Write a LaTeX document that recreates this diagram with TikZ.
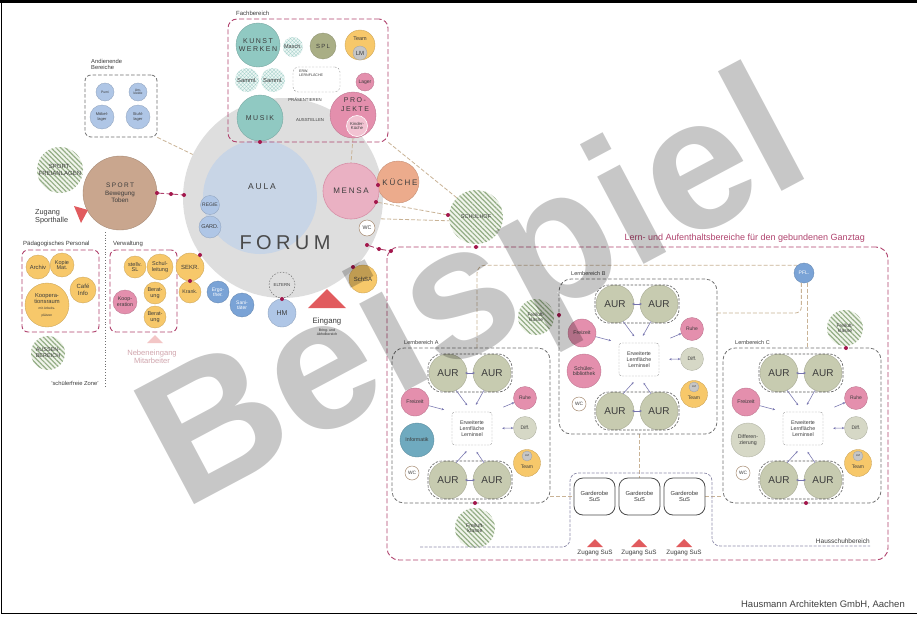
\documentclass[tikz,border=0pt]{standalone}
\usepackage{fontspec}
\setmainfont{Liberation Sans}
\newfontfamily\spcfont[LetterSpace=22]{Liberation Sans}
\usetikzlibrary{patterns.meta,arrows.meta}
\definecolor{cforum}{HTML}{DEDEDE}
\definecolor{caula}{HTML}{C8D5E6}
\definecolor{cteal}{HTML}{90C9C2}
\definecolor{colive}{HTML}{A9AE85}
\definecolor{corange}{HTML}{F7C86A}
\definecolor{cpink}{HTML}{E48FAD}
\definecolor{cpinkl}{HTML}{F2C3D2}
\definecolor{cmensa}{HTML}{EAB1C3}
\definecolor{cmensab}{HTML}{D790A8}
\definecolor{ckueche}{HTML}{ECAB8C}
\definecolor{csport}{HTML}{C9A68E}
\definecolor{cblue}{HTML}{AFC6E6}
\definecolor{cdblue}{HTML}{7AA3D6}
\definecolor{cinfo}{HTML}{6FAABF}
\definecolor{caur}{HTML}{C7CBB0}
\definecolor{cdiff}{HTML}{D6D8C6}
\definecolor{cgrey}{HTML}{C6C6C6}
\definecolor{cmag}{HTML}{B0436E}
\definecolor{cdot}{HTML}{A3174C}
\definecolor{ctan}{HTML}{C9B396}
\definecolor{cbox}{HTML}{707070}
\definecolor{carr}{HTML}{7573AE}
\definecolor{cred}{HTML}{E15B5E}
\definecolor{chatch}{HTML}{93AD85}
\definecolor{chatchbg}{HTML}{F1F5EC}
\definecolor{cscale}{HTML}{A7D2CC}
\definecolor{cscalebg}{HTML}{EEF7F5}
\definecolor{chaus}{HTML}{8E8CAA}
\definecolor{ctxt}{HTML}{3C3C3C}
\definecolor{ctxtb}{HTML}{4A4A4A}
\definecolor{cwcb}{HTML}{A5896F}
\definecolor{cneben}{HTML}{D1A5AD}
\definecolor{cnebtri}{HTML}{F3C6C6}
\pgfdeclarelayer{bg}
\pgfsetlayers{bg,main}
\newcommand\lernber[6]{%
\begin{scope}[shift={(#2,#3)}, name prefix=#1-]
 \node[lbox, minimum width=158pt, minimum height=155pt] (box) at (471,425.5) {};
 \node[lbl, fs=5.5, anchor=west] (lbl) at (404,343) {Lernbereich #4};
 \node[cf=caur, rad=19, fs=10] (aur1) at (448,373) {AUR};
 \node[cf=caur, rad=19, fs=10] (aur2) at (492,373) {AUR};
 \node[pairb, minimum width=84pt, minimum height=38pt] (pt) at (470,373) {};
 \node[cf=caur, rad=19, fs=10] (aur3) at (448,480) {AUR};
 \node[cf=caur, rad=19, fs=10] (aur4) at (492,480) {AUR};
 \node[pairb, minimum width=84pt, minimum height=38pt] (pb) at (470,480) {};
 \node[lfb, minimum width=40pt, minimum height=33pt, fs=5.3] (lf) at (472,428.5) {Erweiterte\\Lernfläche\\Lerninsel};
 \node[cf=cpink, rad=14, fs=5.3] (frei) at (415,402) {Freizeit};
 \node[cf=#6, rad=17, fs=5.3] (sec) at (417,440) {#5};
 \node[wc, rad=7, fs=4.8] (wc) at (412,473) {WC};
 \node[cf=cpink, rad=11.5, fs=5] (ruhe) at (525,398) {Ruhe};
 \node[cf=cdiff, rad=11.5, fs=5] (diff) at (525,428) {Diff.};
 \node[cf=corange, rad=13.5] (team) at (527,463) {};
 \node[cf=cgrey, rad=5, fs=2.8] (lm) at (527,456) {LM};
 \node[lbl, fs=5] (teamt) at (527,467) {Team};
 \draw[arrd, {Stealth[length=2.4pt,width=2.2pt]}-{Stealth[length=2.4pt,width=2.2pt]}] ([xshift=-2pt]aur1.east) -- ([xshift=2pt]aur2.west);
 \draw[arrd, {Stealth[length=2.4pt,width=2.2pt]}-{Stealth[length=2.4pt,width=2.2pt]}] ([xshift=-2pt]aur3.east) -- ([xshift=2pt]aur4.west);
 \draw[arrd, shorten >=8pt] (aur1.-65) -- (lf.north);
 \draw[arrd, shorten >=8pt] (aur2.-115) -- (lf.north);
 \draw[arrd, shorten >=8pt] (aur3.65) -- (lf.south);
 \draw[arrd, shorten >=8pt] (aur4.115) -- (lf.south);
 \draw[arrd, shorten >=8pt] (frei) -- (lf.north west);
 \draw[arrd, shorten <=12pt] (lf.north east) -- (ruhe);
 \draw[arrd, {Stealth[length=2.4pt,width=2.2pt]}-{Stealth[length=2.4pt,width=2.2pt]}, shorten <=10pt] (lf.east) -- (diff.west);
\end{scope}}
\begin{document}
\begin{tikzpicture}[x=1pt,y=-1pt,
 fs/.style={font=\linespread{1.08}\fontsize{#1}{#1}\selectfont},
 sp/.style={font=\spcfont\linespread{1.2}\fontsize{#1}{#1}\selectfont},
 ci/.style={circle, inner sep=0pt, align=center, text=ctxt},
 rad/.style={minimum size={2*#1pt}},
 cf/.style={ci, fill=#1, draw=#1!82!black, line width=0.35pt},
 hatch/.style={ci, fill=chatchbg, postaction={pattern={Lines[angle=-45,distance=3.4pt,line width=1.2pt]}, pattern color=chatch}},
 scal/.style={ci, fill=cscalebg, postaction={pattern={Hatch[angle=45,distance=2.6pt,line width=0.35pt]}, pattern color=cscale}},
 wc/.style={ci, fill=white, draw=cwcb, line width=0.5pt},
 mdot/.style={circle, fill=cdot, inner sep=0pt, minimum size=4pt},
 magd/.style={draw=cmag, dash pattern=on 5pt off 2.5pt, line width=0.9pt},
 tanl/.style={draw=ctan, dash pattern=on 4pt off 2pt, line width=0.8pt},
 greyd/.style={draw=cbox, dash pattern=on 3.5pt off 2pt, line width=0.8pt},
 lbox/.style={rectangle, greyd, rounded corners=12pt, inner sep=0pt},
 pairb/.style={rectangle, draw=cbox!80!black, dash pattern=on 2.5pt off 1.5pt, rounded corners=14pt, line width=0.6pt, inner sep=0pt},
 lfb/.style={rectangle, draw=cbox!70, dash pattern=on 2pt off 1.2pt, line width=0.45pt, rounded corners=3pt, inner sep=0pt, align=center, text=ctxt},
 arrd/.style={draw=carr, line width=0.55pt, -{Stealth[length=2.4pt,width=2.2pt]}},
 lbl/.style={text=ctxt, inner sep=0pt},
 gard/.style={rectangle, draw=black!70, rounded corners=9pt, minimum width=41pt, minimum height=37pt, line width=0.8pt, align=center, fill=white, text=ctxt, inner sep=0pt},
 fbox/.style={rectangle, magd, rounded corners=6pt, inner sep=0pt},
]
\useasboundingbox (0,0) rectangle (917,616);

% ---------- background + Forum ----------
\begin{pgfonlayer}{bg}
\fill[white] (0,0) rectangle (917,616);
\node[ci, fill=cforum, rad=100] (forum) at (283,198) {};
\node[ci, fill=caula, rad=57] (aula) at (260,197) {};
\end{pgfonlayer}
\draw[line width=0.8pt] (1,0) -- (1,613) -- (917,613);
\fill[black] (0,0) rectangle (917,3);
\node[lbl, sp=8.5] (aulat) at (262,187) {AULA};
\node[lbl, sp=20, text=ctxtb] (forumt) at (285,243) {FORUM};
\node[cf=cblue, rad=9.5, fs=5] (regie) at (210,205) {REGIE};
\node[cf=cblue, rad=11, fs=5.5] (gard) at (210,227) {GARD.};

% ---------- Fachbereich ----------
\node[lbl, fs=6, anchor=west] (fachl) at (236,13) {Fachbereich};
\node[fbox, rounded corners=9pt, minimum width=160pt, minimum height=123pt] (fach) at (308,80.5) {};
\node[cf=cteal, rad=22, sp=7] (kunst) at (258,45) {KUNST\\WERKEN};
\node[scal, rad=10, fs=5.5] (masch) at (293,47) {Masch.};
\node[cf=colive, rad=13, sp=6] (spl) at (323,46) {SPL};
\node[cf=corange, rad=15] (team0) at (360,45) {};
\node[cf=cgrey, rad=7, fs=6] (lm0) at (360,53) {LM};
\node[lbl, fs=5.5] (team0t) at (360,39) {Team};
\node[scal, rad=12, fs=5.8] (sam1) at (247,80) {Samml.};
\node[scal, rad=12, fs=5.8] (sam2) at (273,80) {Samml.};
\node[rectangle, draw=cbox!70, dash pattern=on 2pt off 1.5pt, rounded corners=5pt, minimum width=47pt, minimum height=25pt, inner sep=0pt] (erw) at (316.5,79.5) {};
\node[lbl, fs=3.6, align=left, anchor=north west] (erwt) at (299,70) {ERW.\\LERNFLÄCHE};
\node[cf=cpink, rad=9, fs=5] (lager) at (365,82) {Lager};
\node[lbl, fs=4.3] (praes) at (305,100) {PRÄSENTIEREN};
\node[cf=cpink, rad=23] (proj) at (353,115) {};
\node[lbl, sp=7, align=center] (projt) at (355,104.5) {PRO-\\JEKTE};
\node[ci, fill=cpinkl, draw=white, line width=0.6pt, rad=10.5, fs=4.3] (kind) at (357,126) {Kinder-\\Küche};
\node[cf=cteal, rad=23, sp=7] (musik) at (260,118) {MUSIK};
\node[lbl, fs=4.3] (ausst) at (310,120) {AUSSTELLEN};
\node[mdot] (dmus) at (260,142) {};

% ---------- Mensa / Kueche / Schulhof ----------
\node[cf=ckueche, rad=21] (kueche) at (398,182) {};
\node[ci, fill=cmensa, draw=cmensab, line width=0.6pt, rad=28, sp=8] (mensa) at (351,191) {MENSA};
\node[lbl, sp=8] (kuechet) at (400,182) {KÜCHE};
\node[mdot] (dm1) at (378,185) {};
\node[mdot] (dm2) at (376,202) {};
\node[wc, rad=8, fs=5.3] (wcf) at (367,228) {WC};
\node[hatch, rad=27, fs=5.5] (schulhof) at (476,217) {SCHULHOF};
\node[mdot] (dsh) at (448,215) {};

% ---------- Sport ----------
\node[hatch, rad=23, fs=6] (freian) at (60,170) {SPORT-\\FREIANLAGEN};
\node[cf=csport, rad=37] (sport) at (120,193) {};
\node[lbl, sp=6.5] (sportt) at (120,185) {SPORT};
\node[lbl, fs=6.3, align=center] (sportt2) at (120,196.5) {Bewegung\\Toben};
\node[mdot] (ds1) at (157,193) {};
\node[mdot] (ds2) at (171,194) {};
\node[mdot] (ds3) at (184,195) {};
\fill[cred] (74,206) -- (88,210) -- (81,223) -- cycle;
\node[lbl, fs=7.3, align=left, anchor=west] (zsp) at (35,217) {Zugang\\Sporthalle};

% ---------- Andienende Bereiche ----------
\node[lbl, fs=5.8, align=left, anchor=north west] (andl) at (91,59) {Andienende\\Bereiche};
\node[rectangle, greyd, rounded corners=6pt, minimum width=72pt, minimum height=62pt, inner sep=0pt] (andien) at (121,106) {};
\node[cf=cblue, rad=9, fs=3.4] (pumi) at (105,92) {Pumi};
\node[cf=cblue, rad=9, fs=3.4] (umk) at (138,92) {Um-\\kleide};
\node[cf=cblue, rad=12, fs=4] (moeb) at (102,117) {Möbel-\\lager};
\node[cf=cblue, rad=12, fs=4] (stuhl) at (138,117) {Stuhl-\\lager};

% ---------- Paedagogisches Personal ----------
\node[lbl, fs=6, anchor=west] (paedl) at (23,244) {Pädagogisches Personal};
\node[fbox, minimum width=77pt, minimum height=82pt] (paed) at (60.5,291) {};
\node[cf=corange, rad=12, fs=5.8] (archiv) at (38,267) {Archiv};
\node[cf=corange, rad=12, fs=5.5] (kopie) at (62,265) {Kopie\\Mat.};
\node[cf=corange, rad=13, fs=6] (cafe) at (83,290) {Café\\Info};
\node[cf=corange, rad=22, fs=5.8] (koopr) at (47,305) {Koopera-\\tionsraum\\{\fontsize{3.3}{3.6}\selectfont mit Arbeits-}\\{\fontsize{3.3}{3.6}\selectfont plätzen}};
\node[hatch, rad=17, fs=5.5] (aussen) at (48,353) {AUSSEN-\\BEREICH};
\node[lbl, fs=5.8] (sfz) at (75,383) {'schülerfreie Zone'};
\draw[cbox, dotted, line width=0.8pt] (105,232) -- (105,388);

% ---------- Verwaltung ----------
\node[lbl, fs=6, anchor=west] (verwl) at (113,244) {Verwaltung};
\node[fbox, minimum width=67pt, minimum height=82pt] (verw) at (143.5,291) {};
\node[cf=corange, rad=11, fs=5.5] (stellv) at (135,267) {stellv.\\SL};
\node[cf=corange, rad=13, fs=5.5] (schull) at (160,267) {Schul-\\leitung};
\node[cf=cpink, rad=12, fs=5.3] (koopv) at (125,302) {Koop-\\eration};
\node[cf=corange, rad=11, fs=5.5] (ber1) at (155,293) {Berat-\\ung};
\node[cf=corange, rad=11, fs=5.5] (ber2) at (155,317) {Berat-\\ung};
\node[cf=corange, rad=14, fs=6] (sekr) at (190,267) {SEKR.};
\node[cf=corange, rad=11, fs=5.2] (krank) at (190,292) {Krank.};
\node[mdot] (dsekr) at (200,255) {};
\node[mdot] (dkr) at (190,281) {};
\node[cf=cdblue, rad=11, fs=5, text=white] (ergo) at (218,292) {Ergo-\\ther.};
\node[cf=cdblue, rad=12, fs=5, text=white] (sani) at (242,305) {Sani-\\täter};
\fill[cnebtri] (147,343) -- (163,343) -- (155,335) -- cycle;
\node[lbl, fs=7.6, text=cneben, align=center] (neben) at (152,356.5) {Nebeneingang\\Mitarbeiter};

% ---------- Eingang ----------
\node[ci, draw=cbox, dash pattern=on 1.5pt off 1.5pt, line width=0.5pt, rad=13, fs=4.3] (eltern) at (282,285) {ELTERN};
\node[cf=cblue, rad=14, fs=7] (hm) at (282,313) {HM};
\node[mdot] (dhm) at (282,299) {};
\fill[cred] (308,308) -- (346,308) -- (327,289) -- cycle;
\node[lbl, fs=7.8] (eing) at (327,321) {Eingang};
\node[lbl, fs=3.5, align=center] (bring) at (327,332) {Bring- und\\Abholbereich};
\node[cf=corange, rad=14, fs=6] (schsa) at (363,279) {SchSA};
\node[mdot] (dschsa) at (353,267) {};

% ---------- Ganztag ----------
\node[lbl, fs=9, text=cmag, anchor=east] (gtitle) at (865,238) {Lern- und Aufenthaltsbereiche für den gebundenen Ganztag};
\node[rectangle, magd, rounded corners=12pt, minimum width=501pt, minimum height=313pt, inner sep=0pt] (gt) at (637.5,403.5) {};
\node[mdot] (df1) at (367,245) {};
\node[mdot] (df2) at (379,249) {};
\node[mdot] (df3) at (391,251) {};
\node[mdot] (dgt) at (476,247) {};

\lernber{A}{0}{0}{A}{Informatik}{cinfo}
\lernber{B}{167}{-69}{B}{Schüler-\\bibliothek}{cpink}
\lernber{C}{331}{0}{C}{Differen-\\zierung}{cdiff}

\node[hatch, rad=20, fs=5.3] (flA) at (475,528) {Freiluft-\\klasse};
\node[hatch, rad=18, fs=5] (flB) at (536,317) {Freiluft-\\klasse};
\node[hatch, rad=18, fs=5] (flC) at (845,328) {Freiluft-\\klasse};
\node[mdot] (dA) at (475,503) {};
\node[mdot] (dB) at (559,315) {};
\node[mdot] (dC) at (846,348) {};
\node[mdot] (dC2) at (806,503) {};
\node[cf=cdblue, rad=10, fs=5, text=white] (pfl) at (804,273) {PFL.};

\node[gard, fs=5.8] (g1) at (594.5,496.5) {Garderobe\\SuS};
\node[gard, fs=5.8] (g2) at (639.5,496.5) {Garderobe\\SuS};
\node[gard, fs=5.8] (g3) at (684.5,496.5) {Garderobe\\SuS};
\draw[draw=chaus, dash pattern=on 3pt off 1.5pt, line width=0.7pt, rounded corners=8pt] (420,547) -- (570,547) -- (570,473) -- (712,473) -- (712,546) -- (870,546);
\node[lbl, fs=6.5, anchor=east] (hsb) at (870,541) {Hausschuhbereich};
\fill[cred] (587,547) -- (603,547) -- (595,539) -- cycle;
\fill[cred] (631,547) -- (647,547) -- (639,539) -- cycle;
\fill[cred] (676,547) -- (692,547) -- (684,539) -- cycle;
\node[lbl, fs=6.3] (zs1) at (595,553) {Zugang SuS};
\node[lbl, fs=6.3] (zs2) at (639,553) {Zugang SuS};
\node[lbl, fs=6.3] (zs3) at (684,553) {Zugang SuS};

\node[lbl, fs=9.5, anchor=east, text=black!75] (hausm) at (905,605) {Hausmann Architekten GmbH, Aachen};

% ---------- connectors ----------
\begin{pgfonlayer}{bg}
\draw[tanl] (andien.south east) -- (forum);
\draw[magd] (ds1) -- (ds2) -- (ds3);
\draw[tanl] (proj.south) -- (mensa.north);
\draw[tanl] (fach.south east) -- (schulhof.135);
\draw[tanl] (dm2) -- (dsh);
\draw[tanl] (forum.-12) -- (schulhof.188);
\draw[magd] (df1) -- (df2) -- (df3);
\coordinate (tA) at (477,348);
\coordinate (tB) at (717,313);
\draw[tanl, rounded corners=8pt] (tA) |- (pfl.130);
\draw[tanl, rounded corners=6pt] (pfl.255) |- (tB);
\draw[tanl] (pfl.290) -- (pfl.290 |- C-box.north);
\draw[tanl] (g1.west -| A-box.east) -- (g1.west);
\draw[tanl] (g3.east) -- (g3.east -| C-box.west);
\draw[tanl] (B-box.south -| g2.north) -- (g2.north);
\end{pgfonlayer}

% ---------- watermark ----------
\node[rotate=28, font=\fontsize{187}{187}\selectfont\bfseries, text=black, text opacity=0.22, inner sep=0pt] (wm) at (477,299) {Beispiel};
\end{tikzpicture}
\end{document}
